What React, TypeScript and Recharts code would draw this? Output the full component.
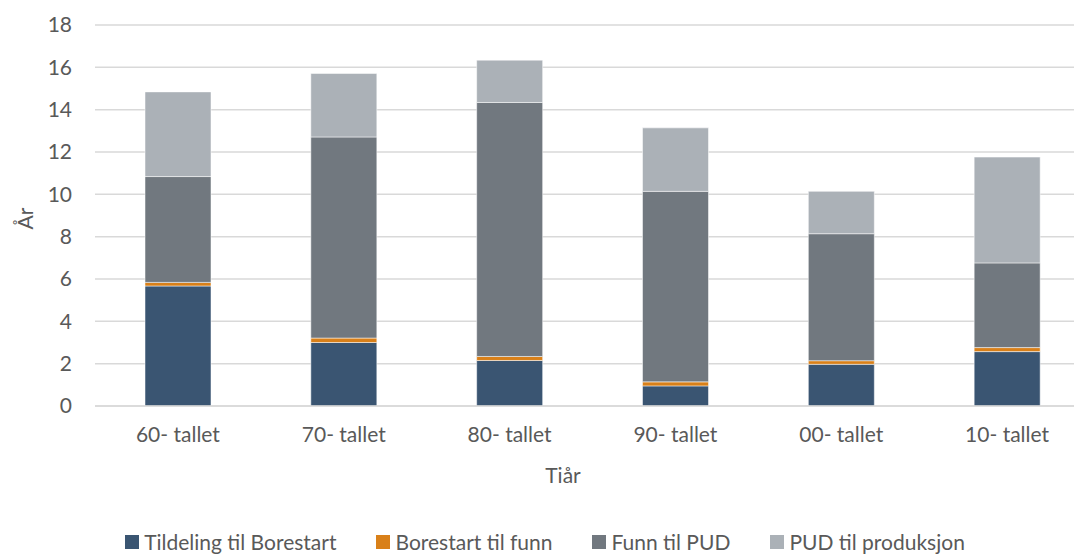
import React from 'react';
import { BarChart, Bar, XAxis, YAxis, CartesianGrid, Legend } from 'recharts';

const categories = ['60- tallet', '70- tallet', '80- tallet', '90- tallet', '00- tallet', '10- tallet'];
const tildelingTilBorestart = [5.67, 3.0, 2.15, 0.95, 1.97, 2.57];
const borestartTilFunn = [0.17, 0.21, 0.19, 0.19, 0.17, 0.19];
const funnTilPud = [5.0, 9.5, 12.0, 9.0, 6.0, 4.0];
const pudTilProduksjon = [4.0, 3.0, 2.0, 3.0, 2.0, 5.0];
const yTicks = [0, 2, 4, 6, 8, 10, 12, 14, 16, 18];

const seriesKeys = ['s0', 's1', 's2', 's3'];
const seriesNames = ['Tildeling til Borestart', 'Borestart til funn', 'Funn til PUD', 'PUD til produksjon'];
const colors = ['#3A5572', '#D98019', '#71787F', '#ABB1B7'];

const data = categories.map((c, i) => ({
  name: c,
  s0: tildelingTilBorestart[i],
  s1: borestartTilFunn[i],
  s2: funnTilPud[i],
  s3: pudTilProduksjon[i],
}));

const FONT = 'Lato, "Open Sans", sans-serif';
const TEXT = '#595959';
const FS = 21;

const renderLegend = () => (
  <div style={{ display: 'flex', justifyContent: 'center', height: 28, lineHeight: '24px', alignItems: 'center', fontFamily: FONT, fontSize: FS, color: TEXT }}>
    {seriesNames.map((name, i) => (
      <div key={name} style={{ display: 'flex', alignItems: 'center', marginLeft: i === 0 ? 0 : 40, whiteSpace: 'nowrap' }}>
        <span style={{ width: 14, height: 14, background: colors[i], display: 'inline-block', marginRight: 5 }} />
        <span>{name}</span>
      </div>
    ))}
  </div>
);

export default function App() {
  return (
    <div style={{ position: 'absolute', left: 0, top: 0, width: 1074, height: 556, overflow: 'hidden', background: '#fff' }}>
      <BarChart width={1100} height={556} data={data} margin={{ top: 25, right: 10, left: 0, bottom: 0 }}>
        <CartesianGrid vertical={false} stroke="#D9D9D9" strokeWidth={1.5} />
        <XAxis
          dataKey="name"
          height={122}
          tickLine={false}
          axisLine={{ stroke: '#D9D9D9', strokeWidth: 1.5 }}
          tickSize={0}
          tickMargin={21}
          tick={{ fill: TEXT, fontSize: FS, fontFamily: FONT }}
          label={{
            content: (p: any) => {
              const vb = p.viewBox;
              return (
                <text x={563} y={vb.y + 77} textAnchor="middle" fill={TEXT} fontSize={FS} fontFamily={FONT}>Tiår</text>
              );
            },
          }}
        />
        <YAxis
          width={95}
          domain={[0, 18]}
          ticks={yTicks}
          tickLine={false}
          axisLine={false}
          tickSize={0}
          tickMargin={23}
          tick={{ fill: TEXT, fontSize: FS, fontFamily: FONT }}
          label={{
            content: (p: any) => {
              const vb = p.viewBox;
              const cx = 33;
              const cy = vb.y + vb.height / 2 + 3;
              return (
                <text x={cx} y={cy} transform={`rotate(-90 ${cx} ${cy})`} textAnchor="middle" fill={TEXT} fontSize={FS} fontFamily={FONT}>År</text>
              );
            },
          }}
        />
        <Legend verticalAlign="bottom" content={renderLegend} />
        {seriesKeys.map((k, i) => (
          <Bar key={k} dataKey={k} name={seriesNames[i]} stackId="a" fill={colors[i]} barSize={66} stroke="#ffffff" strokeOpacity={0.5} strokeWidth={1} isAnimationActive={false} />
        ))}
      </BarChart>
    </div>
  );
}
